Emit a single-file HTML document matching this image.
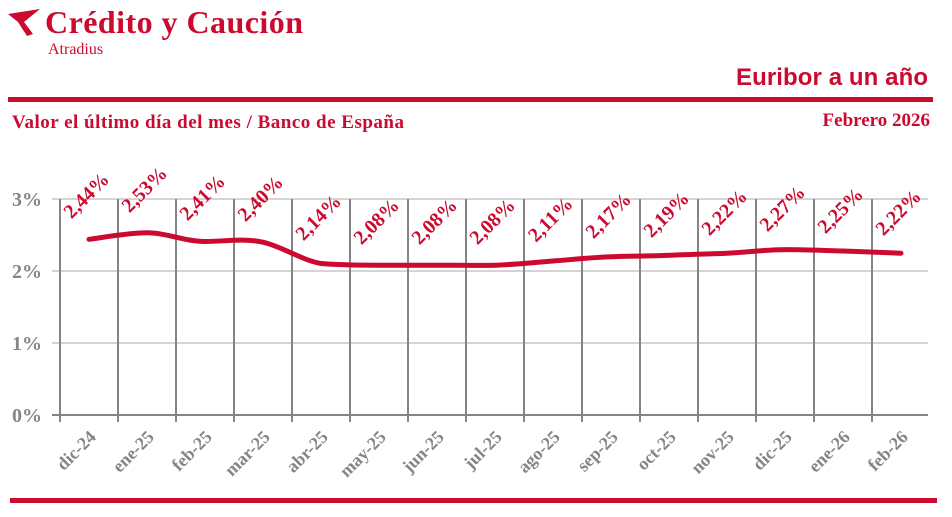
<!DOCTYPE html>
<html><head><meta charset="utf-8"><style>
body{margin:0;background:#fff;}
svg{display:block}
</style></head><body>
<svg width="952" height="517" viewBox="0 0 952 517" xmlns="http://www.w3.org/2000/svg">
<path d="M8 14 L40 9 L24 22 L33 34 L27 36 L18 22 Z" fill="#cc0a2f"/>
<text x="45" y="33" font-family="Liberation Serif, serif" font-weight="bold" font-size="32" fill="#cc0a2f" textLength="258">Crédito y Caución</text>
<text x="48" y="54" font-family="Liberation Serif, serif" font-size="16" fill="#cc0a2f">Atradius</text>
<text x="928" y="85" text-anchor="end" font-family="Liberation Sans, sans-serif" font-weight="bold" font-size="24" fill="#cc0a2f" textLength="192">Euribor a un año</text>
<rect x="8" y="97" width="925" height="5" fill="#cc0a2f"/>
<text x="12" y="128" font-family="Liberation Serif, serif" font-weight="bold" font-size="19" fill="#cc0a2f" textLength="392">Valor el último día del mes / Banco de España</text>
<text x="930" y="126" text-anchor="end" font-family="Liberation Serif, serif" font-weight="bold" font-size="19" fill="#cc0a2f">Febrero 2026</text>
<rect x="10" y="498" width="927" height="5" fill="#cc0a2f"/>
<g stroke="#d4d4d4" stroke-width="2">
<line x1="52" y1="199" x2="928" y2="199"/><line x1="52" y1="271" x2="928" y2="271"/><line x1="52" y1="343" x2="928" y2="343"/>
</g>
<g stroke="#858585" stroke-width="2">
<line x1="60" y1="199" x2="60" y2="422"/><line x1="118" y1="199" x2="118" y2="422"/><line x1="176" y1="199" x2="176" y2="422"/><line x1="234" y1="199" x2="234" y2="422"/><line x1="292" y1="199" x2="292" y2="422"/><line x1="350" y1="199" x2="350" y2="422"/><line x1="408" y1="199" x2="408" y2="422"/><line x1="466" y1="199" x2="466" y2="422"/><line x1="524" y1="199" x2="524" y2="422"/><line x1="582" y1="199" x2="582" y2="422"/><line x1="640" y1="199" x2="640" y2="422"/><line x1="698" y1="199" x2="698" y2="422"/><line x1="756" y1="199" x2="756" y2="422"/><line x1="814" y1="199" x2="814" y2="422"/><line x1="872" y1="199" x2="872" y2="422"/>
<line x1="52" y1="415" x2="928" y2="415"/>
</g>
<g font-family="Liberation Serif, serif" font-weight="bold" font-size="20" fill="#858585" text-anchor="end">
<text x="42" y="206">3%</text><text x="42" y="278">2%</text><text x="42" y="350">1%</text><text x="42" y="422">0%</text>
</g>
<path fill="none" stroke="#cc0a2f" stroke-width="5" stroke-linecap="round" d="M89 239.3 C98.7 238.2,127.3 232.8,147 232.8 C166.7 232.8,185.3 241.5,205 241.5 C224.7 241.5,243.3 238,263 242.2 C282.7 246.8,301.3 260,321 263.5 C340.7 265.2,359.3 265.2,379 265.2 C398.7 265.2,417.3 265.2,437 265.2 C456.7 265.2,475.3 265.6,495 265.2 C514.7 264.6,533.3 262.5,553 261 C572.7 259.5,591.3 257.5,611 256.8 C630.7 256,649.3 256.2,669 255.3 C688.7 254.4,707.3 254,727 253.2 C746.7 252.4,765.3 249.6,785 249.6 C804.7 249.6,823.3 250.4,843 251 C862.7 251.6,891.3 252.8,901 253.2"/>
<g font-family="Liberation Serif, serif" font-weight="bold" font-size="20" fill="#cc0a2f" text-anchor="middle">
<text transform="translate(91,200) rotate(-45)">2,44%</text>
<text transform="translate(149,194) rotate(-45)">2,53%</text>
<text transform="translate(207,202) rotate(-45)">2,41%</text>
<text transform="translate(265,203) rotate(-45)">2,40%</text>
<text transform="translate(323,222) rotate(-45)">2,14%</text>
<text transform="translate(381,226) rotate(-45)">2,08%</text>
<text transform="translate(439,226) rotate(-45)">2,08%</text>
<text transform="translate(497,226) rotate(-45)">2,08%</text>
<text transform="translate(555,224) rotate(-45)">2,11%</text>
<text transform="translate(613,220) rotate(-45)">2,17%</text>
<text transform="translate(671,219) rotate(-45)">2,19%</text>
<text transform="translate(729,217) rotate(-45)">2,22%</text>
<text transform="translate(787,213) rotate(-45)">2,27%</text>
<text transform="translate(845,215) rotate(-45)">2,25%</text>
<text transform="translate(903,217) rotate(-45)">2,22%</text>
</g>
<g font-family="Liberation Serif, serif" font-weight="bold" font-size="18" fill="#858585" text-anchor="end">
<text transform="translate(97,438) rotate(-45)">dic-24</text>
<text transform="translate(155,438) rotate(-45)">ene-25</text>
<text transform="translate(213,438) rotate(-45)">feb-25</text>
<text transform="translate(271,438) rotate(-45)">mar-25</text>
<text transform="translate(329,438) rotate(-45)">abr-25</text>
<text transform="translate(387,438) rotate(-45)">may-25</text>
<text transform="translate(445,438) rotate(-45)">jun-25</text>
<text transform="translate(503,438) rotate(-45)">jul-25</text>
<text transform="translate(561,438) rotate(-45)">ago-25</text>
<text transform="translate(619,438) rotate(-45)">sep-25</text>
<text transform="translate(677,438) rotate(-45)">oct-25</text>
<text transform="translate(735,438) rotate(-45)">nov-25</text>
<text transform="translate(793,438) rotate(-45)">dic-25</text>
<text transform="translate(851,438) rotate(-45)">ene-26</text>
<text transform="translate(909,438) rotate(-45)">feb-26</text>
</g>
</svg>
</body></html>
